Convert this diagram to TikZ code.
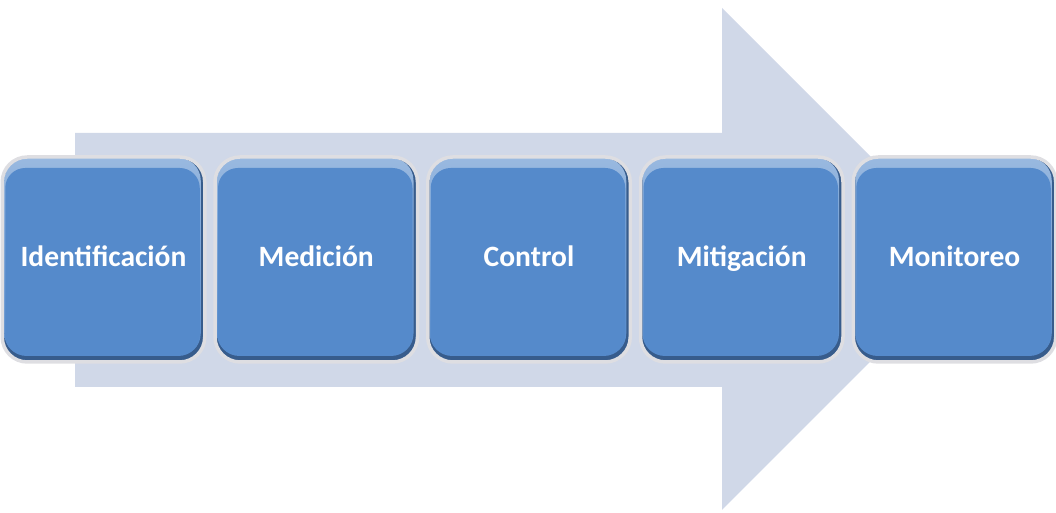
\documentclass[tikz,border=0pt]{standalone}
\usepackage{fontspec}
\setmainfont{Carlito}
\usepackage{tikz}
\usetikzlibrary{shapes,arrows,positioning}

\definecolor{arrowgray}{RGB}{208,216,232}
\definecolor{boxblue}{RGB}{85,138,203}
\definecolor{boxedge}{RGB}{55,92,140}
\definecolor{boxrim}{RGB}{222,222,226}

\begin{document}
\begin{tikzpicture}[
    node distance=0.135cm,
    thick,
    stage/.style={rectangle, rounded corners=0.5cm, draw=boxrim, line width=0.07cm, fill=boxblue,
        minimum width=4.05cm, minimum height=4.1cm, text height=1.8ex, text depth=0.2ex,
        text=white, font=\fontsize{16.8}{20}\selectfont\bfseries,
        path picture={
            \fill[boxedge, rounded corners=0.45cm] (path picture bounding box.south west) rectangle (path picture bounding box.north east);
            \shade[top color=boxblue!60!white, bottom color=boxblue, rounded corners=0.45cm]
                ([xshift=0.04cm,yshift=-0.02cm]path picture bounding box.north west) rectangle ([xshift=-0.08cm,yshift=0.12cm]path picture bounding box.south east);
            \fill[boxblue, rounded corners=0.4cm]
                ([xshift=0.06cm,yshift=-0.22cm]path picture bounding box.north west) rectangle ([xshift=-0.1cm,yshift=0.14cm]path picture bounding box.south east);
        }},
    bigarrow/.style={fill=arrowgray, draw=none}
]
\useasboundingbox (0,0) rectangle (21.12,10.26);
% Background arrow
\fill[bigarrow] (1.5,7.6) -- (14.44,7.6) -- (14.44,10.1) -- (19.46,5.08) -- (14.44,0.06) -- (14.44,2.52) -- (1.5,2.52) -- cycle;
% Stages
\node[stage] (ident) at (2.07,5.07) {Identificación};
\node[stage, right=of ident] (medic) {Medición};
\node[stage, right=of medic] (control) {Control};
\node[stage, right=of control] (mitig) {Mitigación};
\node[stage, right=of mitig] (monit) {Monitoreo};
\end{tikzpicture}
\end{document}
